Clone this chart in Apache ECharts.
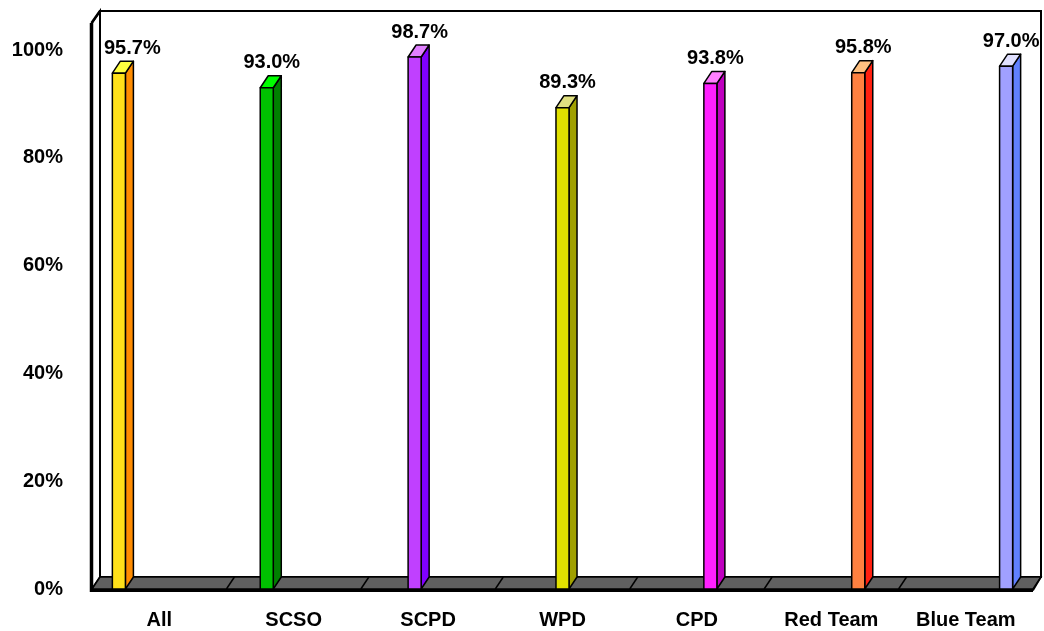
<!DOCTYPE html>
<html>
<head>
<meta charset="utf-8">
<script src="https://cdn.jsdelivr.net/npm/echarts@6/dist/echarts.min.js"></script>
<style>
  html, body { margin: 0; padding: 0; background: #fff; }
  #chart { width: 1044px; height: 631px; }
</style>
</head>
<body>
<div id="chart"></div>
<script>
// 3D-look clustered bar chart, Excel style (one series per category)

const CATEGORIES = ["All", "SCSO", "SCPD", "WPD", "CPD", "Red Team", "Blue Team"];
const VALUES = [95.7, 93.0, 98.7, 89.3, 93.8, 95.8, 97.0];
const Y_MIN = 0;
const Y_MAX = 100;
const Y_STEP = 20;

const FRONT_COLORS = ["#FFE01A", "#00C000", "#C040FF", "#E0E000", "#FF20FF", "#FF8040", "#A0A0FF"];
const SIDE_COLORS = ["#FF8C00", "#008000", "#8000FF", "#A0A000", "#C000C0", "#FF2010", "#6080FF"];
const TOP_COLORS = ["#FFFF40", "#00FF00", "#E080FF", "#E0E080", "#FF80FF", "#FFC080", "#E0E0FF"];

const FONT = '"Liberation Sans", Arial, sans-serif';
const DX = 8, DY = -12;       // depth offset
const WALL_TOP = 105;         // walls rise a little past the last tick
const FLOOR = "#606060";

const dom = document.getElementById("chart");
const chart = echarts.init(dom, null, { renderer: "canvas" });

const measureCtx = document.createElement("canvas").getContext("2d");
function textWidth(s) {
    measureCtx.font = "bold 20px " + FONT;
    return measureCtx.measureText(s).width;
}

function renderWalls(params, api) {
    const cs = params.coordSys;
    const x = cs.x, w = cs.width;
    const y0 = api.coord([0, Y_MIN])[1];
    const yTop = api.coord([0, WALL_TOP])[1];
    const band = w / CATEGORIES.length;
    const line = { stroke: "#000", lineWidth: 2 };
    const kids = [
        {
            type: "polygon",
            shape: { points: [[x, yTop], [x + DX, yTop + DY], [x + DX, y0 + DY], [x, y0]] },
            style: Object.assign({ fill: "#fff" }, line)
        },
        {
            type: "rect",
            shape: { x: x + DX, y: yTop + DY, width: w, height: y0 - yTop },
            style: Object.assign({ fill: "#fff" }, line)
        },
        {
            type: "polygon",
            shape: { points: [[x, y0], [x + DX, y0 + DY], [x + w + DX, y0 + DY], [x + w, y0]] },
            style: { fill: FLOOR, stroke: "#000", lineWidth: 1.5 }
        }
    ];
    for (let k = 1; k < CATEGORIES.length; k++) {
        const bx = x + k * band;
        kids.push({
            type: "line",
            shape: { x1: bx, y1: y0, x2: bx + DX, y2: y0 + DY },
            style: { stroke: "#000", lineWidth: 1.5 }
        });
    }
    return { type: "group", children: kids };
}

function renderFrontEdges(params, api) {
    const cs = params.coordSys;
    const x = cs.x, w = cs.width;
    const y0 = api.coord([0, Y_MIN])[1];
    const yTop = api.coord([0, WALL_TOP])[1];
    return {
        type: "group",
        children: [
            { type: "line", shape: { x1: x - 0.5, y1: yTop, x2: x - 0.5, y2: y0 + 3 }, style: { stroke: "#000", lineWidth: 3.5 } },
            { type: "line", shape: { x1: x - 0.5, y1: yTop, x2: x + DX, y2: yTop + DY }, style: { stroke: "#000", lineWidth: 2.5 } },
            { type: "line", shape: { x1: x - 2, y1: y0 + 1.5, x2: x + w, y2: y0 + 1.5 }, style: { stroke: "#000", lineWidth: 3 } },
            { type: "line", shape: { x1: x + w, y1: y0 + 1.5, x2: x + w + DX, y2: y0 + DY }, style: { stroke: "#000", lineWidth: 1.5 } }
        ]
    };
}

function renderBar(params, api) {
    const i = api.value(0);
    const v = api.value(1);
    const cs = params.coordSys;
    const n = CATEGORIES.length;
    const band = api.size([1, 0])[0];
    const slot = band * 0.1;
    const bw = slot * 0.97;
    const top = api.coord([i, v]);
    const base = api.coord([i, Y_MIN]);
    const cx = top[0] + (i - (n - 1) / 2) * slot;
    const x0 = cx - bw / 2, x1 = cx + bw / 2;
    const yT = top[1], yB = base[1];
    const edge = { stroke: "#000", lineWidth: 1.5, lineJoin: "round" };

    const label = v.toFixed(1) + "%";
    const tw = textWidth(label);
    let lx = cx + 5;
    const minX = cs.x + DX + 4 + tw / 2;
    if (lx < minX) lx = minX;

    return {
        type: "group",
        children: [
            {
                type: "polygon",
                shape: { points: [[x1, yT], [x1 + DX, yT + DY], [x1 + DX, yB + DY], [x1, yB]] },
                style: Object.assign({ fill: SIDE_COLORS[i] }, edge)
            },
            {
                type: "polygon",
                shape: { points: [[x0, yT], [x0 + DX, yT + DY], [x1 + DX, yT + DY], [x1, yT]] },
                style: Object.assign({ fill: TOP_COLORS[i] }, edge)
            },
            {
                type: "rect",
                shape: { x: x0, y: yT, width: bw, height: yB - yT },
                style: Object.assign({ fill: FRONT_COLORS[i] }, edge)
            },
            {
                type: "text",
                style: {
                    text: label,
                    x: lx,
                    y: yT + DY - 13,
                    align: "center",
                    verticalAlign: "middle",
                    fill: "#000",
                    fontSize: 20,
                    fontWeight: "bold",
                    fontFamily: FONT
                }
            }
        ]
    };
}

const option = {
    animation: false,
    backgroundColor: "#fff",
    grid: { left: 92, right: 11, top: 50, bottom: 42, containLabel: false },
    xAxis: {
        type: "category",
        data: CATEGORIES,
        axisLine: { show: false },
        axisTick: { show: false },
        axisLabel: {
            margin: 21,
            color: "#000",
            fontSize: 20,
            fontWeight: "bold",
            fontFamily: FONT
        }
    },
    yAxis: {
        type: "value",
        min: Y_MIN,
        max: Y_MAX,
        interval: Y_STEP,
        axisLine: { show: false },
        axisTick: { show: false },
        splitLine: { show: false },
        axisLabel: {
            margin: 29,
            color: "#000",
            fontSize: 20,
            fontWeight: "bold",
            fontFamily: FONT,
            padding: [6, 0, 0, 0],
            formatter: "{value}%"
        }
    },
    series: [
        {
            type: "custom",
            name: "walls",
            z: 1,
            silent: true,
            data: [[0, 0]],
            renderItem: renderWalls
        },
        {
            type: "custom",
            name: "bars",
            z: 2,
            data: VALUES.map((v, i) => [i, v]),
            encode: { x: 0, y: 1 },
            renderItem: renderBar
        },
        {
            type: "custom",
            name: "edges",
            z: 3,
            silent: true,
            data: [[0, 0]],
            renderItem: renderFrontEdges
        }
    ]
};

chart.setOption(option);
</script>
</body>
</html>
